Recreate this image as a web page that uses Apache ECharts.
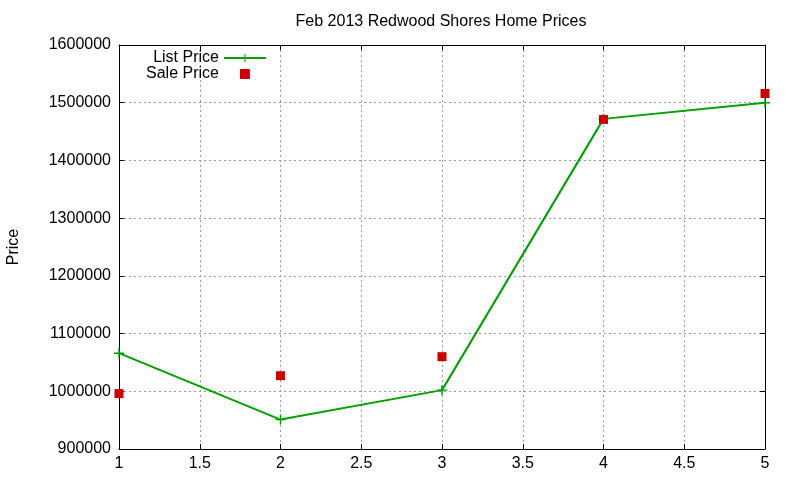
<!DOCTYPE html>
<html>
<head>
<meta charset="utf-8">
<script src="https://cdn.jsdelivr.net/npm/echarts@6/dist/echarts.min.js"></script>
<style>
  html, body { margin: 0; padding: 0; background: #fff; }
  #main { width: 800px; height: 480px; }
</style>
</head>
<body>
<div id="main"></div>
<script>
// data
var xValues = [1, 2, 3, 4, 5];
var listPrice = [1066000, 951000, 1002000, 1472000, 1500000];
var salePrice = [996000, 1027000, 1060000, 1471000, 1516000];

var font = 'Liberation Sans, Arial, sans-serif';
var plus = 'path://M4.3,0H5.7V4.3H10V5.7H5.7V10H4.3V5.7H0V4.3H4.3Z';
var square = 'path://M0,0H10V10H0Z';

function pairs(ys) {
  return xValues.map(function (x, i) { return [x, ys[i]]; });
}

var chart = echarts.init(document.getElementById('main'));

// mirrored axes for the top/right ticks (gnuplot style box)
function mirror(base, pos) {
  return Object.assign({}, base, {
    position: pos,
    axisLabel: { show: false },
    splitLine: { show: false },
    name: ''
  });
}

var xBase = {
  type: 'value',
  min: 1,
  max: 5,
  interval: 0.5,
  axisLine: { onZero: false, lineStyle: { color: '#000', width: 1 } },
  axisTick: { inside: true, length: 5, lineStyle: { color: '#000' } },
  axisLabel: { color: '#000', fontFamily: font, fontSize: 16, margin: 7 },
  splitLine: { show: true, lineStyle: { color: '#999', type: [2, 3], width: 1 } }
};
var yBase = {
  type: 'value',
  min: 900000,
  max: 1600000,
  interval: 100000,
  axisLine: { show: true, onZero: false, lineStyle: { color: '#000', width: 1 } },
  axisTick: { show: true, inside: true, length: 5, lineStyle: { color: '#000' } },
  axisLabel: {
    color: '#000', fontFamily: font, fontSize: 16, margin: 8,
    formatter: function (v) { return String(v); }
  },
  splitLine: { show: true, lineStyle: { color: '#999', type: [2, 3], width: 1 } }
};

var option = {
  animation: false,
  backgroundColor: '#fff',
  title: {
    text: 'Feb 2013 Redwood Shores Home Prices',
    left: 436,
    textAlign: 'center',
    top: 9,
    textStyle: { fontFamily: font, fontSize: 16, fontWeight: 'normal', color: '#000' }
  },
  legend: {
    orient: 'vertical',
    left: 141,
    top: 45,
    align: 'right',
    itemWidth: 42,
    itemHeight: 10,
    itemGap: 0,
    textStyle: { fontFamily: font, fontSize: 16, color: '#000', lineHeight: 14 },
    data: ['List Price', 'Sale Price']
  },
  grid: { left: 119, right: 35, top: 45, bottom: 31, outerBoundsMode: 'none' },
  xAxis: [
    xBase,
    mirror(xBase, 'top')
  ],
  yAxis: [
    Object.assign({}, yBase, {
      name: 'Price',
      nameLocation: 'middle',
      nameGap: 97,
      nameRotate: 90,
      nameTextStyle: { fontFamily: font, fontSize: 16, color: '#000' }
    }),
    mirror(yBase, 'right')
  ],
  series: [
    {
      name: 'List Price',
      type: 'line',
      data: pairs(listPrice),
      symbol: plus,
      symbolSize: 10,
      showAllSymbol: true,
      lineStyle: { color: '#00a000', width: 2 },
      itemStyle: { color: '#00a000' }
    },
    {
      name: 'Sale Price',
      type: 'scatter',
      data: pairs(salePrice),
      symbol: square,
      symbolSize: 9,
      symbolKeepAspect: true,
      itemStyle: { color: '#cc0000', opacity: 1 },
      z: 3
    }
  ]
};

chart.setOption(option);
</script>
</body>
</html>
